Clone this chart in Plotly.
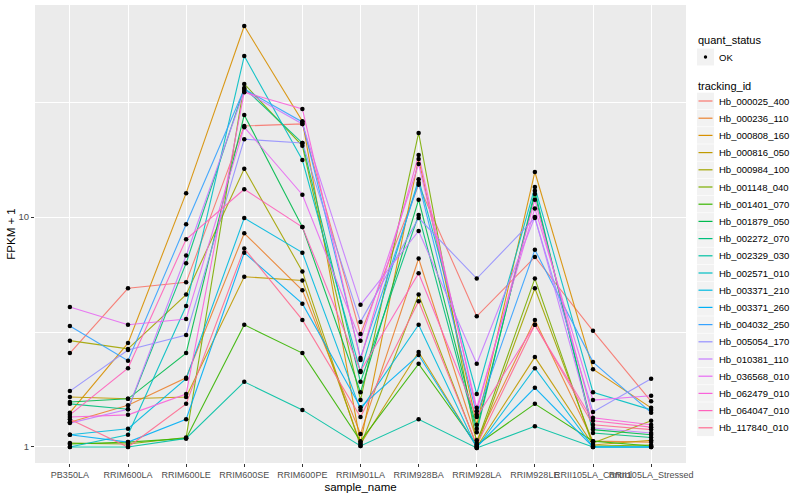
import plotly.graph_objects as go

samples = ["PB350LA", "RRIM600LA", "RRIM600LE", "RRIM600SE", "RRIM600PE", "RRIM901LA",
           "RRIM928BA", "RRIM928LA", "RRIM928LE", "RRII105LA_Control", "RRII105LA_Stressed"]

tracking_ids = ["Hb_000025_400", "Hb_000236_110", "Hb_000808_160", "Hb_000816_050", "Hb_000984_100",
                "Hb_001148_040", "Hb_001401_070", "Hb_001879_050", "Hb_002272_070", "Hb_002329_030",
                "Hb_002571_010", "Hb_003371_210", "Hb_003371_260", "Hb_004032_250", "Hb_005054_170",
                "Hb_010381_110", "Hb_036568_010", "Hb_062479_010", "Hb_064047_010", "Hb_117840_010"]

colors = ["#F8766D", "#EA8331", "#D89000", "#C09B00", "#A3A500", "#7CAE00", "#39B600", "#00BB4E",
          "#00BF7D", "#00C1A3", "#00BFC4", "#00BAE0", "#00B0F6", "#35A2FF", "#9590FF", "#C77CFF",
          "#E76BF3", "#FA62DB", "#FF62BC", "#FF6C91"]

hb_000025_400 = [2.56, 4.9, 5.2, 24.9, 25.4, 3.1, 13.8, 3.7, 6.7, 3.2, 1.58]
hb_000236_110 = [1.28, 1.52, 2.0, 8.5, 4.8, 1.14, 6.6, 1.07, 3.57, 1.06, 1.05]
hb_000808_160 = [1.41, 2.83, 12.7, 67.7, 26.1, 1.04, 17.9, 1.25, 15.7, 2.18, 1.48]
hb_000816_050 = [1.65, 1.62, 1.65, 5.5, 5.3, 1.03, 2.59, 1.0, 2.46, 1.02, 1.07]
hb_000984_100 = [2.9, 2.67, 4.6, 16.2, 5.8, 1.01, 4.6, 1.01, 4.9, 1.04, 1.30]
hb_001148_040 = [1.04, 1.03, 1.10, 37.9, 20.4, 1.60, 23.2, 1.04, 5.4, 1.01, 1.02]
hb_001401_070 = [1.03, 1.05, 1.09, 3.4, 2.56, 1.06, 2.30, 1.02, 1.54, 1.06, 1.01]
hb_001879_050 = [1.57, 1.62, 2.56, 27.8, 9.05, 1.73, 11.9, 1.20, 12.6, 1.19, 1.13]
hb_002272_070 = [1.54, 1.46, 6.3, 36.4, 21.0, 1.92, 10.2, 1.16, 13.0, 1.15, 1.10]
hb_002329_030 = [1.0, 1.0, 1.09, 1.92, 1.45, 1.01, 1.32, 0.99, 1.23, 1.0, 1.0]
hb_002571_010 = [1.0, 1.13, 4.1, 50.1, 17.7, 2.12, 14.6, 1.70, 13.5, 1.73, 1.45]
hb_003371_210 = [1.13, 1.20, 1.98, 9.9, 7.0, 1.45, 3.4, 0.99, 2.20, 1.0, 1.0]
hb_003371_260 = [1.13, 1.05, 1.32, 7.0, 4.2, 1.49, 2.51, 1.0, 1.81, 1.0, 1.0]
hb_004032_250 = [3.36, 2.37, 9.3, 36.0, 25.9, 2.44, 14.1, 1.38, 7.2, 2.34, 1.41]
hb_005054_170 = [1.75, 2.64, 3.07, 21.8, 21.0, 3.5, 9.9, 5.4, 9.9, 1.42, 1.98]
hb_010381_110 = [1.27, 1.46, 6.8, 35.3, 25.4, 4.15, 8.7, 2.30, 10.0, 1.21, 1.15]
hb_036568_010 = [4.06, 3.4, 3.6, 24.6, 12.5, 2.9, 17.0, 1.48, 10.9, 1.60, 1.67]
hb_062479_010 = [1.35, 1.38, 1.70, 34.9, 29.5, 2.39, 18.6, 1.43, 11.9, 1.34, 1.25]
hb_064047_010 = [1.38, 2.20, 8.0, 13.2, 9.05, 2.14, 5.7, 1.35, 3.4, 1.30, 1.22]
hb_117840_010 = [1.32, 1.0, 1.54, 7.3, 3.57, 1.35, 4.3, 1.02, 3.4, 1.25, 1.19]

series = [hb_000025_400, hb_000236_110, hb_000808_160, hb_000816_050, hb_000984_100,
          hb_001148_040, hb_001401_070, hb_001879_050, hb_002272_070, hb_002329_030,
          hb_002571_010, hb_003371_210, hb_003371_260, hb_004032_250, hb_005054_170,
          hb_010381_110, hb_036568_010, hb_062479_010, hb_064047_010, hb_117840_010]

FONT = "Liberation Sans, Arial, sans-serif"

fig = go.Figure()
for name, vals, col in zip(tracking_ids, series, colors):
    fig.add_trace(go.Scatter(x=samples, y=vals, mode="lines", name=name,
                             line=dict(color=col, width=1.1), opacity=0.9, showlegend=False))

all_x, all_y = [], []
for vals in series:
    all_x += samples
    all_y += vals
fig.add_trace(go.Scatter(x=all_x, y=all_y, mode="markers", showlegend=False,
                         marker=dict(color="black", size=4.5, symbol="circle")))

# panel geometry in pixels (for legend placement)
L, R, T, B = 35, 686, 5, 463
W, H = R - L, B - T

def px(xp):
    return (xp - L) / W

def py(yp):
    return (B - yp) / H

shapes, annots = [], []
annots.append(dict(x=px(696), y=py(40), xref="paper", yref="paper", text="quant_status",
                   showarrow=False, xanchor="left", yanchor="middle",
                   font=dict(family=FONT, size=11, color="black")))
shapes.append(dict(type="rect", xref="paper", yref="paper", x0=px(697), x1=px(714),
                   y0=py(48.5), y1=py(65.5), fillcolor="#F2F2F2", line=dict(width=0)))
shapes.append(dict(type="circle", xref="paper", yref="paper", x0=px(703.8), x1=px(707.2),
                   y0=py(55.3), y1=py(58.7), fillcolor="black", line=dict(width=0)))
annots.append(dict(x=px(717), y=py(57), xref="paper", yref="paper", text="OK",
                   showarrow=False, xanchor="left", yanchor="middle",
                   font=dict(family=FONT, size=9.5, color="black")))
annots.append(dict(x=px(696), y=py(86), xref="paper", yref="paper", text="tracking_id",
                   showarrow=False, xanchor="left", yanchor="middle",
                   font=dict(family=FONT, size=11, color="black")))
for i, (name, col) in enumerate(zip(tracking_ids, colors)):
    cy = 101 + 17.2 * i
    shapes.append(dict(type="rect", xref="paper", yref="paper", x0=px(697), x1=px(714),
                       y0=py(cy + 8.3), y1=py(cy - 8.3), fillcolor="#F2F2F2", line=dict(width=0)))
    shapes.append(dict(type="line", xref="paper", yref="paper", x0=px(698.5), x1=px(712.5),
                       y0=py(cy), y1=py(cy), line=dict(color=col, width=1.2)))
    annots.append(dict(x=px(717), y=py(cy), xref="paper", yref="paper", text=name,
                       showarrow=False, xanchor="left", yanchor="middle",
                       font=dict(family=FONT, size=9.5, color="black")))

fig.update_layout(
    width=800, height=500,
    margin=dict(l=L, r=800 - R, t=T, b=500 - B, autoexpand=False),
    paper_bgcolor="white", plot_bgcolor="#EBEBEB",
    font=dict(family=FONT, size=10, color="#4D4D4D"),
    shapes=shapes, annotations=annots,
    xaxis=dict(type="category", range=[-0.6, 10.6], showgrid=True, gridcolor="white", gridwidth=1.1,
               ticks="outside", ticklen=3, tickcolor="#333333", zeroline=False, tickangle=0,
               automargin=False,
               tickfont=dict(family=FONT, size=9, color="#4D4D4D"),
               title=dict(text="sample_name", font=dict(family=FONT, size=11.5, color="black"), standoff=4)),
    yaxis=dict(type="log", range=[-0.0696, 1.922], tickvals=[1, 10], ticktext=["1", "10"],
               showgrid=True, gridcolor="white", gridwidth=1.1, zeroline=False, automargin=False,
               ticks="outside", ticklen=3, tickcolor="#333333",
               minor=dict(tickvals=[3.1623, 31.623], showgrid=True, gridcolor="white",
                          gridwidth=0.5, ticks=""),
               tickfont=dict(family=FONT, size=9.5, color="#4D4D4D"),
               title=dict(text="FPKM + 1", font=dict(family=FONT, size=11.5, color="black"), standoff=0)),
    showlegend=False,
)

fig.write_html("out.html", config={"displayModeBar": False},
               post_script="document.body.style.margin='0';")
